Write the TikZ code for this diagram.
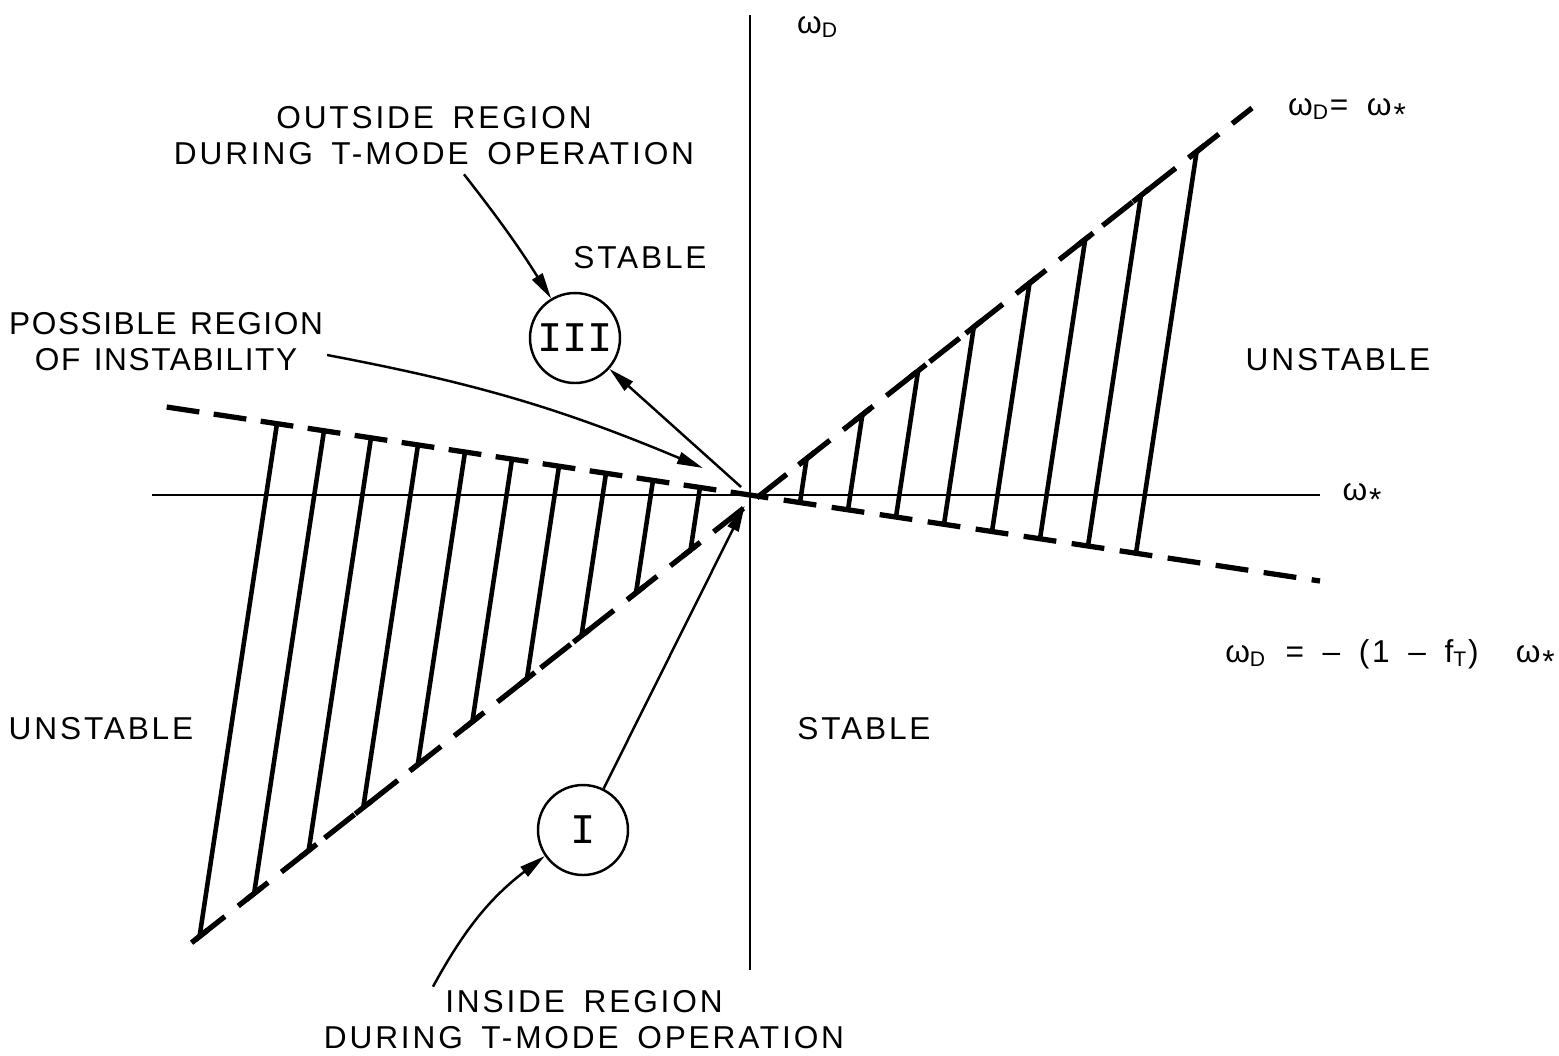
\documentclass[tikz,border=0pt]{standalone}
\usepackage{fontspec}
\setmainfont[LetterSpace=9, WordSpace=1.6]{Liberation Sans}
\newfontfamily\possfont[LetterSpace=5, WordSpace=1.3]{Liberation Sans}
\newfontfamily\circfont{Liberation Mono}
\usepackage{tikz}
\usetikzlibrary{arrows.meta, positioning, calc}
\newcommand{\wD}{ω\textsubscript{D}}
\newcommand{\wst}{ω\kern0.06em\raisebox{-0.3em}{\small *}}

\begin{document}
\begin{tikzpicture}[font=\fontsize{9}{10.2}\selectfont,
    axis/.style={line width=0.6pt},
    bound/.style={line width=1.5pt},
    hatch/.style={line width=1.3pt},
    tbar/.style={line width=1.5pt},
    region/.style={draw, circle, line width=0.7pt, minimum size=0.9cm, inner sep=0pt, font=\circfont\fontsize{12}{13}\selectfont},
    conn/.style={line width=0.7pt, -{Triangle[length=0.26cm, width=0.12cm]}},
    lbl/.style={align=center, inner sep=1pt}]
  \useasboundingbox (-7.50,-5.60) rectangle (8.09,4.95);

  % axes
  \coordinate (o) at (0,0);
  \draw[axis] (0,-4.75) -- (0,4.80);
  \draw[axis] (-5.98,0) -- (5.70,0);
  \node (wd) at (0.68,4.68) {\wD};
  \node (ws) at (6.12,-0.02) {\wst};

  % the two boundaries
  \coordinate (a1) at (-5.55,-4.45);
  \coordinate (a2) at (5.02,3.87);
  \coordinate (b1) at (-5.90,0.89);
  \coordinate (b2) at (5.70,-0.86);
  \draw[bound, dash pattern=on 0.38cm off 0.17cm] (a1) -- (a2);
  \draw[bound, dash pattern=on 0.33cm off 0.1453cm, dash phase=0.4077cm] (b1) -- (o);
  \draw[bound, dash pattern=on 0.33cm off 0.1554cm, dash phase=0.1448cm] (o) -- (b2);
  \node (eqa) at (5.97,3.83) {\wD= \wst};
  \node (eqb) at (6.40,-1.61) {\wD\ = \textendash\ (1 \textendash\ f\textsubscript{T}) \ \wst};

  % hatching between the boundaries
  \foreach \xb in {0.50,0.98,1.46,1.94,2.42,2.90,3.38,3.86,-0.50,-0.97,-1.44,-1.91,-2.38,-2.85,-3.32,-3.79,-4.26,-4.73} {
    \coordinate (hb) at (\xb,{-0.151*\xb});
    \coordinate (hq) at ($(hb)+(0.151,1)$);
    \coordinate (ha) at (intersection of hb--hq and a1--a2);
    \draw[hatch] (hb) -- (ha);
    \draw[tbar] ($(ha)+(-0.08,-0.063)$) -- ($(ha)+(0.08,0.063)$);
  }

  % regions
  \node (st1) at (-1.10,2.37) {STABLE};
  \node (st2) at (1.14,-2.34) {STABLE};
  \node (un1) at (5.88,1.35) {UNSTABLE};
  \node (un2) at (-6.49,-2.34) {UNSTABLE};

  \node[region] (c3) at (-1.75,1.57) {III};
  \node[region] (c1) at (-1.67,-3.35) {I};

  \node[lbl] (out) at (-3.16,3.59) {OUTSIDE REGION\\DURING T-MODE OPERATION};
  \node[lbl, font=\possfont\fontsize{9}{10.2}\selectfont] (poss) at (-5.84,1.53) {POSSIBLE REGION\\OF INSTABILITY};
  \node[lbl] (ins) at (-1.66,-5.25) {INSIDE REGION\\DURING T-MODE OPERATION};
  \coordinate (pe) at (-0.47,0.27);

  \draw[conn] ([xshift=0.3cm, yshift=-0.05cm]out.south) to[bend left=3] (c3);
  \draw[conn, shorten <=0.12cm] (o) -- (c3);
  \draw[conn] ([yshift=-0.13cm]poss.east) to[bend left=6] (pe);
  \draw[conn, shorten >=0.12cm] (c1) -- (o);
  \draw[conn] ([xshift=-1.51cm]ins.north) to[bend left=12] (c1);
\end{tikzpicture}
\end{document}
